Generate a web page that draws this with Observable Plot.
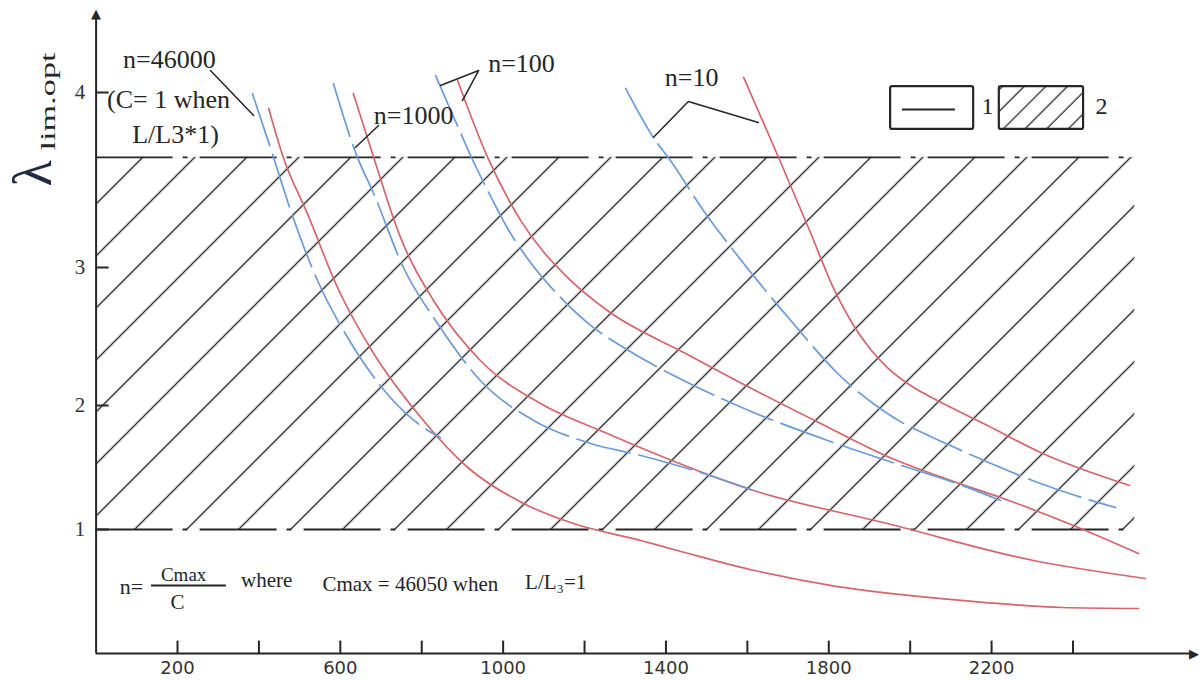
<!DOCTYPE html>
<html><head><meta charset="utf-8">
<script src="https://cdn.jsdelivr.net/npm/d3@7"></script>
<script src="https://cdn.jsdelivr.net/npm/@observablehq/plot@0.6"></script>
<style>body{margin:0;background:#fff}</style>
</head><body><div id="chart"></div>
<script>
// ---------- data (x = L, y = lambda lim.opt) ----------
const xTicks = [200, 400, 600, 800, 1000, 1200, 1400, 1600, 1800, 2000, 2200, 2400];
const xLabels = ["200", "600", "1000", "1400", "1800", "2200"];
const yTicks = [1, 2, 3, 4];
const bandLimits = [1, 3.629];          // dash-dot limits of zone 2
const bandX = [0, 2552];                // extent of the hatched zone

// solid (red) curves
const redA = [[424,3.909],[460,3.629],[519,3.309],[593,2.855],[682,2.377],[790,1.935],[913,1.5],[1050,1.21],[1173,1.048],[1338,0.911],[1428,0.831],[1618,0.669],[1807,0.548],[1996,0.468],[2185,0.411],[2374,0.371],[2561,0.363]];
const redB = [[632,3.994],[682,3.629],[748,3.171],[829,2.761],[944,2.326],[1092,2.014],[1256,1.774],[1313,1.694],[1615,1.315],[1944,1.048],[2303,0.75],[2578,0.605]];
const redC = [[888,4.069],[962,3.629],[1043,3.269],[1158,2.928],[1256,2.688],[1453,2.37],[1615,2.116],[1780,1.855],[1944,1.589],[2107,1.387],[2222,1.258],[2401,1.032],[2561,0.806]];
const redD = [[1591,4.086],[1682,3.6],[1755,3.2],[1812,2.848],[1861,2.58],[1903,2.406],[1944,2.275],[2001,2.145],[2067,2.036],[2190,1.839],[2320,1.621],[2539,1.355]];
// dashed (blue) curves
const blueA = [[384,3.994],[436,3.629],[478,3.326],[544,2.906],[618,2.493],[723,2.058],[797,1.839],[846,1.742]];
const blueB = [[583,4.051],[642,3.629],[682,3.423],[755,3.0],[839,2.594],[944,2.181],[1075,1.879],[1215,1.694],[1338,1.597],[1485,1.46],[1615,1.315]];
const blueC = [[834,4.097],[895,3.771],[920,3.64],[962,3.44],[1011,3.223],[1060,3.051],[1141,2.783],[1215,2.58],[1296,2.42],[1453,2.167],[1615,1.944],[1797,1.718],[1994,1.5],[2107,1.379],[2222,1.234]];
const blueD = [[1301,4.023],[1369,3.743],[1411,3.611],[1492,3.326],[1591,3.023],[1713,2.594],[1822,2.232],[1944,1.935],[2099,1.677],[2193,1.54],[2320,1.371],[2406,1.274],[2505,1.177]];

// annotations
const curveLabels = [
  {text: "n=46000", x: 180, y: 4.189},
  {text: "(C= 1 when", x: 178, y: 3.96},
  {text: "L/L3*1)", x: 195, y: 3.76},
  {text: "n=1000", x: 780, y: 3.869},
  {text: "n=100", x: 1045, y: 4.166},
  {text: "n=10", x: 1463, y: 4.086}
];
const leaders = [
  [[281,4.126],[387,3.869]],
  [[694,3.811],[637,3.686]],
  [[846,4.04],[940,4.126],[900,3.954]],
  [[1369,3.743],[1455,3.949],[1627,3.829]]
];
const formula = [
  {text: "n=", x: 87, y: 0.54, size: 22},
  {text: "Cmax", x: 215, y: 0.63, size: 19},
  {text: "C", x: 200, y: 0.41, size: 21},
  {text: "where", x: 419, y: 0.589, size: 21},
  {text: "Cmax = 46050 when", x: 772, y: 0.556, size: 21},
  {text: "L/L\u2083=1", x: 1129, y: 0.573, size: 21}
];
const fractionBar = [{x1: 136, x2: 320, y: 0.548}];
const legendBox1 = [{x1: 1952, x2: 2156, y1: 3.789, y2: 4.034}];
const legendBox2 = [{x1: 2219, x2: 2426, y1: 3.789, y2: 4.034}];
const legendSample = [{x1: 1981, x2: 2111, y: 3.903}];
const legendLabels = [{text: "1", x: 2190, y: 3.92}, {text: "2", x: 2470, y: 3.92}];

const RED = "#d4666c", BLUE = "#6b9bd8", INK = "#262626";
const line = (data, color, dashed) => Plot.line(data, {
  x: d => d[0], y: d => d[1], curve: "monotone-x",
  stroke: color, strokeWidth: 1.7, strokeDasharray: dashed ? "55,9" : null
});

const svg = Plot.plot({
  width: 1202, height: 680,
  style: {fontFamily: "Liberation Serif", fontSize: "20px", background: "#fff", overflow: "visible"},
  x: {domain: [0, 2700], range: [95.6, 1194.6], axis: null},
  y: {type: "linear", domain: [0, 1, 2, 3, 4], range: [653, 529, 405, 267, 92], axis: null},
  marks: [
    Plot.rect([{}], {x1: bandX[0], x2: bandX[1], y1: bandLimits[0], y2: bandLimits[1], fill: "url(#hatch)", className: "hatchzone"}),
    Plot.ruleY(bandLimits, {x1: bandX[0], x2: bandX[1], stroke: INK, strokeWidth: 1.8, strokeDasharray: "77,10,5,12"}),
    line(redA, RED), line(redB, RED), line(redC, RED), line(redD, RED),
    line(blueA, BLUE, true), line(blueB, BLUE, true), line(blueC, BLUE, true), line(blueD, BLUE, true),
    // axes
    Plot.ruleX([0], {y1: 0, y2: 4.43, stroke: INK, strokeWidth: 2}),
    Plot.ruleY([0], {x1: 0, x2: 2690, stroke: INK, strokeWidth: 2}),
    Plot.text(["\u25B2"], {x: 0, y: 4.45, fontFamily: "DejaVu Sans", fontSize: 13, fill: INK}),
    Plot.text(["\u25B6"], {x: 2697, y: 0, fontFamily: "DejaVu Sans", fontSize: 13, fill: INK}),
    Plot.ruleX(xTicks, {y1: 0, y2: 0.1, stroke: INK, strokeWidth: 2}),
    Plot.ruleY(yTicks, {x1: 0, x2: 32, stroke: INK, strokeWidth: 2}),
    Plot.text(xLabels, {x: d => +d, y: 0, text: d => d, dy: 15, fontFamily: "DejaVu Sans", fontSize: 18, fill: "#333"}),
    Plot.text(yTicks, {x: 0, y: d => d, text: d => String(d), dx: -16, fontSize: 21, fill: "#333"}),
    Plot.text(["\u03BB"], {x: -154, y: 3.537, rotate: -90, fontSize: 54, fill: "#1f2a44"}),
    Plot.text(["lim.opt"], {x: -119, y: 3.949, rotate: -90, fontSize: 22, fill: INK, className: "ylabsub"}),
    // annotations
    ...leaders.map(l => Plot.line(l, {x: d => d[0], y: d => d[1], stroke: INK, strokeWidth: 1.5})),
    Plot.text(curveLabels, {x: "x", y: "y", text: "text", fontSize: 26, fill: INK}),
    Plot.text(formula, {x: "x", y: "y", text: "text", fontSize: d => d.size, fill: INK}),
    Plot.ruleY(fractionBar, {x1: "x1", x2: "x2", y: "y", stroke: INK, strokeWidth: 2}),
    // legend
    Plot.rect(legendBox1, {x1: "x1", x2: "x2", y1: "y1", y2: "y2", fill: "#fff", stroke: INK, strokeWidth: 2.2, rx: 2}),
    Plot.rect(legendBox2, {x1: "x1", x2: "x2", y1: "y1", y2: "y2", fill: "url(#hatch2)", stroke: INK, strokeWidth: 2.2, rx: 2, className: "hatchlegend"}),
    Plot.ruleY(legendSample, {x1: "x1", x2: "x2", y: "y", stroke: INK, strokeWidth: 2}),
    Plot.text(legendLabels, {x: "x", y: "y", text: "text", fontSize: 24, fill: INK})
  ]
});

const defs = document.createElementNS("http://www.w3.org/2000/svg", "defs");
defs.innerHTML =
  '<pattern id="hatch" patternUnits="userSpaceOnUse" width="36.77" height="36.77" patternTransform="rotate(45)">' +
  '<line x1="28.3" y1="-1" x2="28.3" y2="38" stroke="#2b2b2b" stroke-width="1.4"/></pattern>' +
  '<pattern id="hatch2" patternUnits="userSpaceOnUse" width="15.3" height="15.3" patternTransform="rotate(45)">' +
  '<line x1="5" y1="-1" x2="5" y2="17" stroke="#2b2b2b" stroke-width="1.3"/></pattern>';
svg.insertBefore(defs, svg.firstChild);
svg.querySelectorAll(".hatchzone rect").forEach(r => r.setAttribute("fill", "url(#hatch)"));
svg.querySelectorAll(".hatchlegend rect").forEach(r => r.setAttribute("fill", "url(#hatch2)"));
svg.querySelectorAll(".ylabsub text").forEach(t => { t.setAttribute("textLength", "98"); t.setAttribute("lengthAdjust", "spacingAndGlyphs"); });
document.getElementById("chart").append(svg);
</script></body></html>
